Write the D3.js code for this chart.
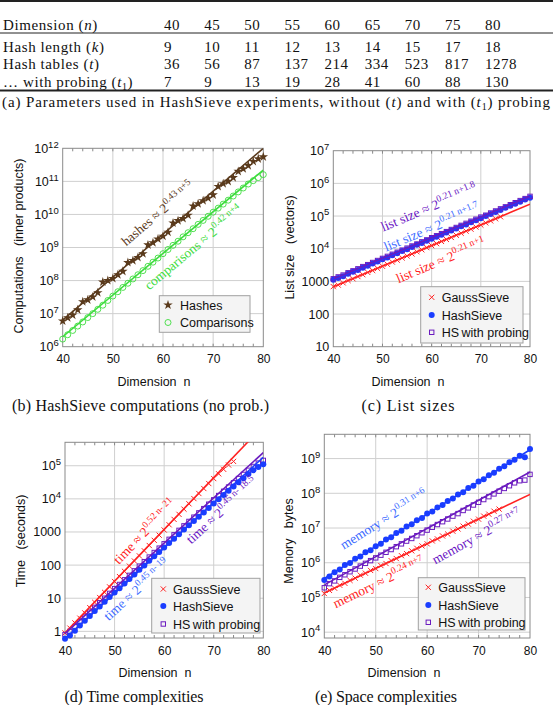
<!DOCTYPE html>
<html><head><meta charset="utf-8">
<script src="https://cdn.jsdelivr.net/npm/d3@7/dist/d3.min.js"></script>
<style>body{margin:0;background:#fff}svg{display:block}</style>
</head><body>
<svg id="fig" width="553" height="705"></svg>
<script>
// ---------- Table (a) ----------
const tableDims = [40, 45, 50, 55, 60, 65, 70, 75, 80];
const hashLength = [9, 10, 11, 12, 13, 14, 15, 17, 18];
const hashTables = [36, 56, 87, 137, 214, 334, 523, 817, 1278];
const probingTables = [7, 9, 13, 19, 28, 41, 60, 88, 130];

// ---------- dimensions ----------
const dims = [40,41,42,43,44,45,46,47,48,49,50,51,52,53,54,55,56,57,58,59,60,61,62,63,64,65,66,67,68,69,70,71,72,73,74,75,76,77,78,79,80];
const gaussDims = [40,41,42,43,44,45,46,47,48,49,50,51,52,53,54,55,56,57,58,59,60,61,62,63,64,65,66,67,68,69,70,71,72,73,74];
const xTickValues = [40, 50, 60, 70, 80];

// ---------- (b) computations ----------
const hashesComp = [6.0e6,7.5e6,9.0e6,1.3e7,2.3e7,2.6e7,3.2e7,4.3e7,9.0e7,1.0e8,1.15e8,1.5e8,1.9e8,3.5e8,4.0e8,5.0e8,6.5e8,1.2e9,1.4e9,1.8e9,2.2e9,2.9e9,5.5e9,6.5e9,7.5e9,9.5e9,1.8e10,2.1e10,2.6e10,3.1e10,3.9e10,7.0e10,8.5e10,1.0e11,1.3e11,2.0e11,2.4e11,3.0e11,4.0e11,4.8e11,5.5e11];
const comparisonsComp = [1.7e6,2.3e6,3.1e6,4.2e6,5.6e6,7.6e6,1.0e7,1.35e7,1.8e7,2.5e7,3.4e7,4.6e7,6.2e7,8.3e7,1.12e8,1.5e8,2.0e8,2.7e8,3.6e8,4.8e8,6.5e8,8.7e8,1.16e9,1.55e9,2.1e9,2.8e9,3.7e9,5.0e9,6.6e9,8.8e9,1.17e10,1.55e10,2.05e10,2.7e10,3.6e10,4.8e10,6.3e10,8.3e10,1.05e11,1.3e11,1.6e11];
const hashesFit = [[40, 6.4e6], [80, 1.0e12]];
const comparisonsFit = [[40, 2.0e6], [80, 2.2e11]];

// ---------- (c) list sizes ----------
const gaussList = [690,770,900,1060,1200,1400,1600,1880,2150,2500,2900,3330,3900,4450,5200,6000,6900,8050,9250,10800,12400,14300,16700,19200,22100,25800,29700,34500,39600,46200,53000,61800,71000,82500,95000];
const hashList = [1120,1260,1440,1700,1960,2230,2620,3030,3520,4050,4720,5380,6300,7250,8450,9700,11200,13100,15000,17500,20100,23400,26800,31300,36000,41600,48500,55500,64800,74500,86000,99500,115000,134000,154000,178000,206000,238000,275000,318000,365000];
const probeList = [1200,1370,1560,1830,2100,2420,2830,3250,3780,4350,5050,5820,6750,7780,9050,10400,12100,13900,16200,18600,21700,24900,28900,33300,38700,44600,51800,59700,69300,79800,92800,106000,124000,143000,166000,191000,222000,256000,297000,342000,400000];
const gaussListFit = [[40, 680], [80, 2.3e5]];
const hashListFit = [[40, 1100], [80, 3.7e5]];
const probeListFit = [[40, 1180], [80, 4.0e5]];

// ---------- (d) time ----------
const gaussTime = [0.9,1.25,1.8,2.5,3.6,5.2,7.5,10.5,15,22,32,45,65,93,133,190,270,390,560,800,1150,1650,2400,3400,4900,7100,10200,14500,20500,29000,41000,57000,78000,105000,135000];
const hashTime = [0.6,0.75,1.05,1.5,2.1,2.9,4.1,5.6,7.8,10.8,15,20,28,38,52,72,98,135,185,250,340,465,630,860,1180,1600,2150,2900,3900,5300,7200,9700,13000,17500,23500,31500,42000,56000,73000,92000,110000];
const probeTime = [0.8,1.0,1.4,1.95,2.7,3.8,5.3,7.3,10,14,19.5,26,36,49,67,93,127,175,240,325,440,600,820,1120,1530,2080,2800,3770,5070,6900,9360,12600,16900,22700,30500,41000,54600,72800,95000,120000,145000];
const gaussTimeFit = [[40, 0.9], [80, 1.6e6]];
const hashTimeFit = [[40, 0.6], [80, 1.8e5]];
const probeTimeFit = [[40, 0.85], [80, 2.5e5]];

// ---------- (e) memory ----------
const gaussMem = [1.3e5,1.6e5,1.85e5,2.25e5,2.55e5,3.1e5,3.6e5,4.4e5,5.0e5,6.0e5,6.8e5,8.3e5,9.5e5,1.15e6,1.32e6,1.6e6,1.83e6,2.2e6,2.6e6,3.05e6,3.5e6,4.25e6,4.85e6,5.9e6,6.7e6,8.1e6,9.4e6,1.13e7,1.3e7,1.57e7,1.8e7,2.2e7,2.5e7,3.05e7,3.5e7];
const hashMem = [3.2e5,4.0e5,5.3e5,6.4e5,8.6e5,9.8e5,1.3e6,1.5e6,2.0e6,2.3e6,3.0e6,3.5e6,4.7e6,5.4e6,7.2e6,8.3e6,1.1e7,1.28e7,1.68e7,1.95e7,2.6e7,3.0e7,3.9e7,4.6e7,6.0e7,7.1e7,9.3e7,1.08e8,1.42e8,1.66e8,2.2e8,2.55e8,3.3e8,3.9e8,5.1e8,6.0e8,7.8e8,9.2e8,1.2e9,1.1e9,1.9e9];
const probeMem = [1.9e5,2.5e5,3.0e5,3.8e5,4.5e5,5.5e5,6.6e5,8.0e5,9.6e5,1.15e6,1.38e6,1.65e6,2.0e6,2.4e6,2.9e6,3.5e6,4.2e6,5.0e6,6.0e6,7.3e6,8.7e6,1.05e7,1.26e7,1.52e7,1.82e7,2.2e7,2.6e7,3.2e7,3.8e7,4.6e7,5.5e7,6.6e7,8.0e7,9.6e7,1.15e8,1.38e8,1.65e8,2.0e8,2.3e8,2.4e8,3.5e8];
const gaussMemFit = [[40, 1.35e5], [80, 9.3e7]];
const hashMemFit = [[40, 3.5e5], [80, 1.8e9]];
const probeMemFit = [[40, 2.3e5], [80, 4.1e8]];

// ---------- styles ----------
const C = {
  brown: '#5a3a1c', green: '#3ddc3d', red: '#ff2222', blue: '#1a3dff', purple: '#6b1bbf',
  blueText: '#3d6bff', purpleText: '#6a14c4'
};
const SERIF = "'Liberation Serif', 'DejaVu Serif', serif";
const SANS = "'Liberation Sans', Arial, sans-serif";

const svg = d3.select('#fig');

// ---------- draw table ----------
(function drawTable() {
  const g = svg.append('g').style('font-family', SERIF).style('font-size', '15px').attr('fill', '#111');
  const col = d3.scalePoint().domain(tableDims).range([164, 485]);
  g.append('line').attr('x1', 0).attr('x2', 553).attr('y1', 1).attr('y2', 1).attr('stroke', '#222').attr('stroke-width', 2);
  g.append('line').attr('x1', 0).attr('x2', 553).attr('y1', 33).attr('y2', 33).attr('stroke', '#222').attr('stroke-width', 1);
  g.append('line').attr('x1', 0).attr('x2', 553).attr('y1', 90.5).attr('y2', 90.5).attr('stroke', '#222').attr('stroke-width', 2);

  const rows = [
    {parts: [['Dimension (', 0], ['n', 1], [')', 0]], vals: tableDims, y: 30},
    {parts: [['Hash length (', 0], ['k', 1], [')', 0]], vals: hashLength, y: 52},
    {parts: [['Hash tables (', 0], ['t', 1], [')', 0]], vals: hashTables, y: 69},
    {parts: [['\u2026 with probing (', 0], ['t', 1], ['1', 2], [')', 0]], vals: probingTables, y: 86.5}
  ];
  rows.forEach(r => {
    const t = g.append('text').attr('x', 3).attr('y', r.y).style('letter-spacing', '0.6px');
    r.parts.forEach(p => {
      const s = t.append('tspan').text(p[0]);
      if (p[1] === 1) s.style('font-style', 'italic');
      if (p[1] === 2) s.attr('dy', 3).style('font-size', '10px');
      if (p[1] === 0 && p[0] === ')' && r.parts.some(q => q[1] === 2)) s.attr('dy', -3);
    });
    g.selectAll(null).data(r.vals).join('text')
      .attr('x', (d, i) => col(tableDims[i])).attr('y', r.y).style('letter-spacing', '0.5px').text(d => d);
  });
  const cap = g.append('text').attr('x', 2).attr('y', 107)
    .attr('textLength', 548).attr('lengthAdjust', 'spacing');
  cap.append('tspan').text('(a) Parameters used in HashSieve experiments, without (');
  cap.append('tspan').style('font-style', 'italic').text('t');
  cap.append('tspan').text(') and with (');
  cap.append('tspan').style('font-style', 'italic').text('t');
  cap.append('tspan').attr('dy', 3).style('font-size', '10px').text('1');
  cap.append('tspan').attr('dy', -3).text(') probing');
})();

// ---------- markers ----------
function drawMarker(sel, type, color) {
  if (type === 'star') {
    sel.append('path').attr('d', d3.symbol(d3.symbolStar, 28)()).attr('fill', color);
  } else if (type === 'ocircle') {
    sel.append('circle').attr('r', 3).attr('fill', 'none').attr('stroke', color).attr('stroke-width', 0.9);
  } else if (type === 'x') {
    sel.append('path').attr('d', 'M-2.6,-2.6L2.6,2.6M-2.6,2.6L2.6,-2.6').attr('stroke', color).attr('stroke-width', 1).attr('fill', 'none');
  } else if (type === 'dot') {
    sel.append('circle').attr('r', 3).attr('fill', color);
  } else if (type === 'square') {
    sel.append('rect').attr('x', -2.2).attr('y', -2.2).attr('width', 4.4).attr('height', 4.4).attr('fill', 'none').attr('stroke', color).attr('stroke-width', 1);
  }
}

function panel(cfg) {
  const g = svg.append('g');
  const x = d3.scaleLinear().domain([40, 80]).range([cfg.left, cfg.right]);
  const y = d3.scaleLog().domain(cfg.yDomain).range([cfg.bottom, cfg.top]);
  const clipId = 'clip-' + cfg.name;
  svg.append('clipPath').attr('id', clipId).append('rect')
    .attr('x', cfg.left).attr('y', cfg.top).attr('width', cfg.right - cfg.left).attr('height', cfg.bottom - cfg.top);

  // grid
  g.append('g').selectAll('line').data([50, 60, 70]).join('line')
    .attr('x1', d => x(d)).attr('x2', d => x(d)).attr('y1', cfg.top).attr('y2', cfg.bottom)
    .attr('stroke', '#cfcfcf').attr('stroke-width', 1);
  g.append('g').selectAll('line').data(cfg.yTicks.filter(v => y(v) > cfg.top + 1 && y(v) < cfg.bottom - 1)).join('line')
    .attr('x1', cfg.left).attr('x2', cfg.right).attr('y1', d => y(d)).attr('y2', d => y(d))
    .attr('stroke', '#cfcfcf').attr('stroke-width', 1);
  // minor x ticks top & bottom
  const minor = d3.range(42, 80, 2);
  g.append('g').selectAll('line').data(minor).join('line')
    .attr('x1', d => x(d)).attr('x2', d => x(d)).attr('y1', cfg.bottom).attr('y2', cfg.bottom - 3)
    .attr('stroke', '#888');
  g.append('g').selectAll('line').data(minor).join('line')
    .attr('x1', d => x(d)).attr('x2', d => x(d)).attr('y1', cfg.top).attr('y2', cfg.top + 3)
    .attr('stroke', '#888');
  // frame
  g.append('rect').attr('x', cfg.left).attr('y', cfg.top).attr('width', cfg.right - cfg.left).attr('height', cfg.bottom - cfg.top)
    .attr('fill', 'none').attr('stroke', '#8a8a8a').attr('stroke-width', 1);

  // x axis labels
  const xa = g.append('g').attr('transform', `translate(0,${cfg.bottom})`)
    .call(d3.axisBottom(x).tickValues(xTickValues).tickSize(0).tickPadding(8).tickFormat(d3.format('d')));
  xa.select('.domain').remove();
  xa.selectAll('text').style('font-family', SANS).style('font-size', '12px').attr('fill', '#111');

  // y axis labels
  const ya = g.append('g').attr('transform', `translate(${cfg.left},0)`)
    .call(d3.axisLeft(y).tickValues(cfg.yTicks).tickSize(0).tickPadding(4));
  ya.select('.domain').remove();
  ya.selectAll('text').style('font-family', SANS).style('font-size', '12.5px').attr('fill', '#111')
    .each(function (v) {
      const t = d3.select(this);
      t.text(null);
      if (cfg.plainMax && v <= cfg.plainMax) {
        t.append('tspan').text(String(v));
      } else {
        t.append('tspan').text('10');
        t.append('tspan').attr('dy', '-0.55em').style('font-size', '9.5px').text(Math.round(Math.log10(v)));
      }
    });

  // series markers
  cfg.series.forEach(s => {
    const sg = g.append('g');
    s.ys.forEach((v, i) => {
      const m = sg.append('g').attr('transform', `translate(${x(s.xs[i])},${y(v)})`);
      drawMarker(m, s.marker, s.color);
    });
  });

  // fit lines
  const lg = g.append('g').attr('clip-path', `url(#${clipId})`);
  cfg.fits.forEach(f => {
    lg.append('line').attr('x1', x(f.pts[0][0])).attr('y1', y(f.pts[0][1]))
      .attr('x2', x(f.pts[1][0])).attr('y2', y(f.pts[1][1]))
      .attr('stroke', f.color).attr('stroke-width', 1.6);
  });

  // annotations
  cfg.notes.forEach(n => {
    const p0 = n.fit[0], p1 = n.fit[1];
    const ang = Math.atan2(y(p0[1]) - y(p1[1]), x(p1[0]) - x(p0[0])) * 180 / Math.PI;
    const t = g.append('text').attr('transform', `translate(${n.cx},${n.cy}) rotate(${-ang})`)
      .attr('y', 4).attr('text-anchor', 'middle').attr('fill', n.color)
      .style('font-family', SERIF).style('font-size', '13.5px');
    t.append('tspan').text(n.label + ' \u2248 2');
    t.append('tspan').attr('dy', -6).style('font-size', '9.5px').text(n.sup);
  });

  // legend
  const L = cfg.legend;
  const lgd = g.append('g');
  lgd.append('rect').attr('x', L.x0).attr('y', L.y0).attr('width', L.x1 - L.x0).attr('height', L.y1 - L.y0)
    .attr('fill', '#f4f4f4').attr('stroke', '#a0a0a0').attr('stroke-width', 1);
  L.items.forEach(it => {
    const m = lgd.append('g').attr('transform', `translate(${L.mx},${it.y})`);
    drawMarker(m, it.marker, it.color);
    lgd.append('text').attr('x', L.tx).attr('y', it.y + 4.5).text(it.label)
      .style('font-family', SANS).style('font-size', '12.5px').attr('fill', '#111');
  });

  // axis titles
  g.append('text').attr('x', cfg.xTitle[0]).attr('y', cfg.xTitle[1]).attr('text-anchor', 'middle')
    .style('font-family', SANS).style('font-size', '12.5px').attr('fill', '#111')
    .text('Dimension\u00a0\u00a0n');
  g.append('text').attr('transform', `translate(${cfg.yTitle[0]},${cfg.yTitle[1]}) rotate(-90)`)
    .attr('text-anchor', 'middle').attr('y', 4.5)
    .style('font-family', SANS).style('font-size', '12.5px').attr('fill', '#111')
    .text(cfg.yTitleText);
  // caption
  g.append('text').attr('x', cfg.caption[0]).attr('y', cfg.caption[1]).attr('text-anchor', 'middle')
    .attr('textLength', cfg.captionWidth).attr('lengthAdjust', 'spacing')
    .style('font-family', SERIF).style('font-size', '16px').attr('fill', '#111').text(cfg.captionText);
}

// (b)
panel({
  name: 'b', left: 62.7, right: 263.3, top: 148.3, bottom: 346.7, yDomain: [1e6, 1e12],
  yTicks: [1e6, 1e7, 1e8, 1e9, 1e10, 1e11, 1e12],
  series: [
    {xs: dims, ys: comparisonsComp, marker: 'ocircle', color: C.green},
    {xs: dims, ys: hashesComp, marker: 'star', color: C.brown}
  ],
  fits: [{pts: comparisonsFit, color: C.green}, {pts: hashesFit, color: C.brown}],
  notes: [
    {fit: hashesFit, cx: 158, cy: 214, color: C.brown, label: 'hashes', sup: '0.43 n+5'},
    {fit: comparisonsFit, cx: 194, cy: 248, color: C.green, label: 'comparisons', sup: '0.42 n+4'}
  ],
  legend: {x0: 159.3, x1: 250, y0: 295.7, y1: 332.3, mx: 168, tx: 180,
    items: [{label: 'Hashes', marker: 'star', color: C.brown, y: 305},
            {label: 'Comparisons', marker: 'ocircle', color: C.green, y: 322.5}]},
  xTitle: [154, 386], yTitle: [18, 246], yTitleText: 'Computations\u00a0\u00a0\u00a0(inner products)',
  caption: [140.5, 410.5], captionWidth: 257, captionText: '(b) HashSieve computations (no prob.)'
});

// (c)
panel({
  name: 'c', left: 333.3, right: 530, top: 150.7, bottom: 346.7, yDomain: [10, 1e7],
  yTicks: [10, 100, 1000, 1e4, 1e5, 1e6, 1e7], plainMax: 1000,
  series: [
    {xs: gaussDims, ys: gaussList, marker: 'x', color: C.red},
    {xs: dims, ys: hashList, marker: 'dot', color: C.blue},
    {xs: dims, ys: probeList, marker: 'square', color: C.purple}
  ],
  fits: [{pts: gaussListFit, color: C.red}, {pts: hashListFit, color: C.blue}, {pts: probeListFit, color: C.purple}],
  notes: [
    {fit: probeListFit, cx: 429, cy: 208, color: C.purpleText, label: 'list size', sup: '0.21 n+1.8'},
    {fit: hashListFit, cx: 432, cy: 228, color: C.blueText, label: 'list size', sup: '0.21 n+1.7'},
    {fit: gaussListFit, cx: 441, cy: 261, color: C.red, label: 'list size', sup: '0.21 n+1'}
  ],
  legend: {x0: 420.7, x1: 523, y0: 286.7, y1: 343, mx: 431.7, tx: 441.7,
    items: [{label: 'GaussSieve', marker: 'x', color: C.red, y: 297.3},
            {label: 'HashSieve', marker: 'dot', color: C.blue, y: 315},
            {label: 'HS\u2009with  probing', marker: 'square', color: C.purple, y: 332.3}]},
  xTitle: [408, 386], yTitle: [289, 247.5], yTitleText: 'List size\u00a0\u00a0\u00a0(vectors)',
  caption: [408, 410.5], captionWidth: 93, captionText: '(c) List sizes'
});

// (d)
panel({
  name: 'd', left: 65, right: 263.3, top: 442.3, bottom: 638, yDomain: [0.63, 5.1e5],
  yTicks: [1, 10, 100, 1000, 1e4, 1e5], plainMax: 1000,
  series: [
    {xs: gaussDims, ys: gaussTime, marker: 'x', color: C.red},
    {xs: dims, ys: probeTime, marker: 'square', color: C.purple},
    {xs: dims, ys: hashTime, marker: 'dot', color: C.blue}
  ],
  fits: [{pts: gaussTimeFit, color: C.red}, {pts: hashTimeFit, color: C.blue}, {pts: probeTimeFit, color: C.purple}],
  notes: [
    {fit: gaussTimeFit, cx: 145, cy: 532, color: C.red, label: 'time', sup: '0.52 n- 21'},
    {fit: hashTimeFit, cx: 137, cy: 590, color: C.blueText, label: 'time', sup: '0.45 n- 19'},
    {fit: probeTimeFit, cx: 222, cy: 511, color: C.purpleText, label: 'time', sup: '0.45 n- 18.5'}
  ],
  legend: {x0: 151.7, x1: 260, y0: 578.3, y1: 633, mx: 163.3, tx: 173,
    items: [{label: 'GaussSieve', marker: 'x', color: C.red, y: 589},
            {label: 'HashSieve', marker: 'dot', color: C.blue, y: 606},
            {label: 'HS\u2009with  probing', marker: 'square', color: C.purple, y: 624}]},
  xTitle: [155, 677], yTitle: [20, 541], yTitleText: 'Time\u00a0\u00a0\u00a0(seconds)',
  caption: [134, 701.5], captionWidth: 139, captionText: '(d) Time complexities'
});

// (e)
panel({
  name: 'e', left: 324.3, right: 530, top: 434.3, bottom: 638, yDomain: [6.8e3, 5e9],
  yTicks: [1e4, 1e5, 1e6, 1e7, 1e8, 1e9],
  series: [
    {xs: gaussDims, ys: gaussMem, marker: 'x', color: C.red},
    {xs: dims, ys: hashMem, marker: 'dot', color: C.blue},
    {xs: dims, ys: probeMem, marker: 'square', color: C.purple}
  ],
  fits: [{pts: gaussMemFit, color: C.red}, {pts: hashMemFit, color: C.blue}, {pts: probeMemFit, color: C.purple}],
  notes: [
    {fit: hashMemFit, cx: 384, cy: 520, color: C.blueText, label: 'memory', sup: '0.31 n+6'},
    {fit: gaussMemFit, cx: 379, cy: 583, color: C.red, label: 'memory', sup: '0.24 n+7'},
    {fit: probeMemFit, cx: 477, cy: 537, color: C.purpleText, label: 'memory', sup: '0.27 n+7'}
  ],
  legend: {x0: 418.3, x1: 525, y0: 577.7, y1: 630, mx: 428.3, tx: 438.3,
    items: [{label: 'GaussSieve', marker: 'x', color: C.red, y: 587.3},
            {label: 'HashSieve', marker: 'dot', color: C.blue, y: 605},
            {label: 'HS\u2009with  probing', marker: 'square', color: C.purple, y: 622.3}]},
  xTitle: [404, 677], yTitle: [288, 541], yTitleText: 'Memory\u00a0\u00a0\u00a0bytes',
  caption: [386, 701.5], captionWidth: 142, captionText: '(e) Space complexities'
});
</script>
</body></html>
